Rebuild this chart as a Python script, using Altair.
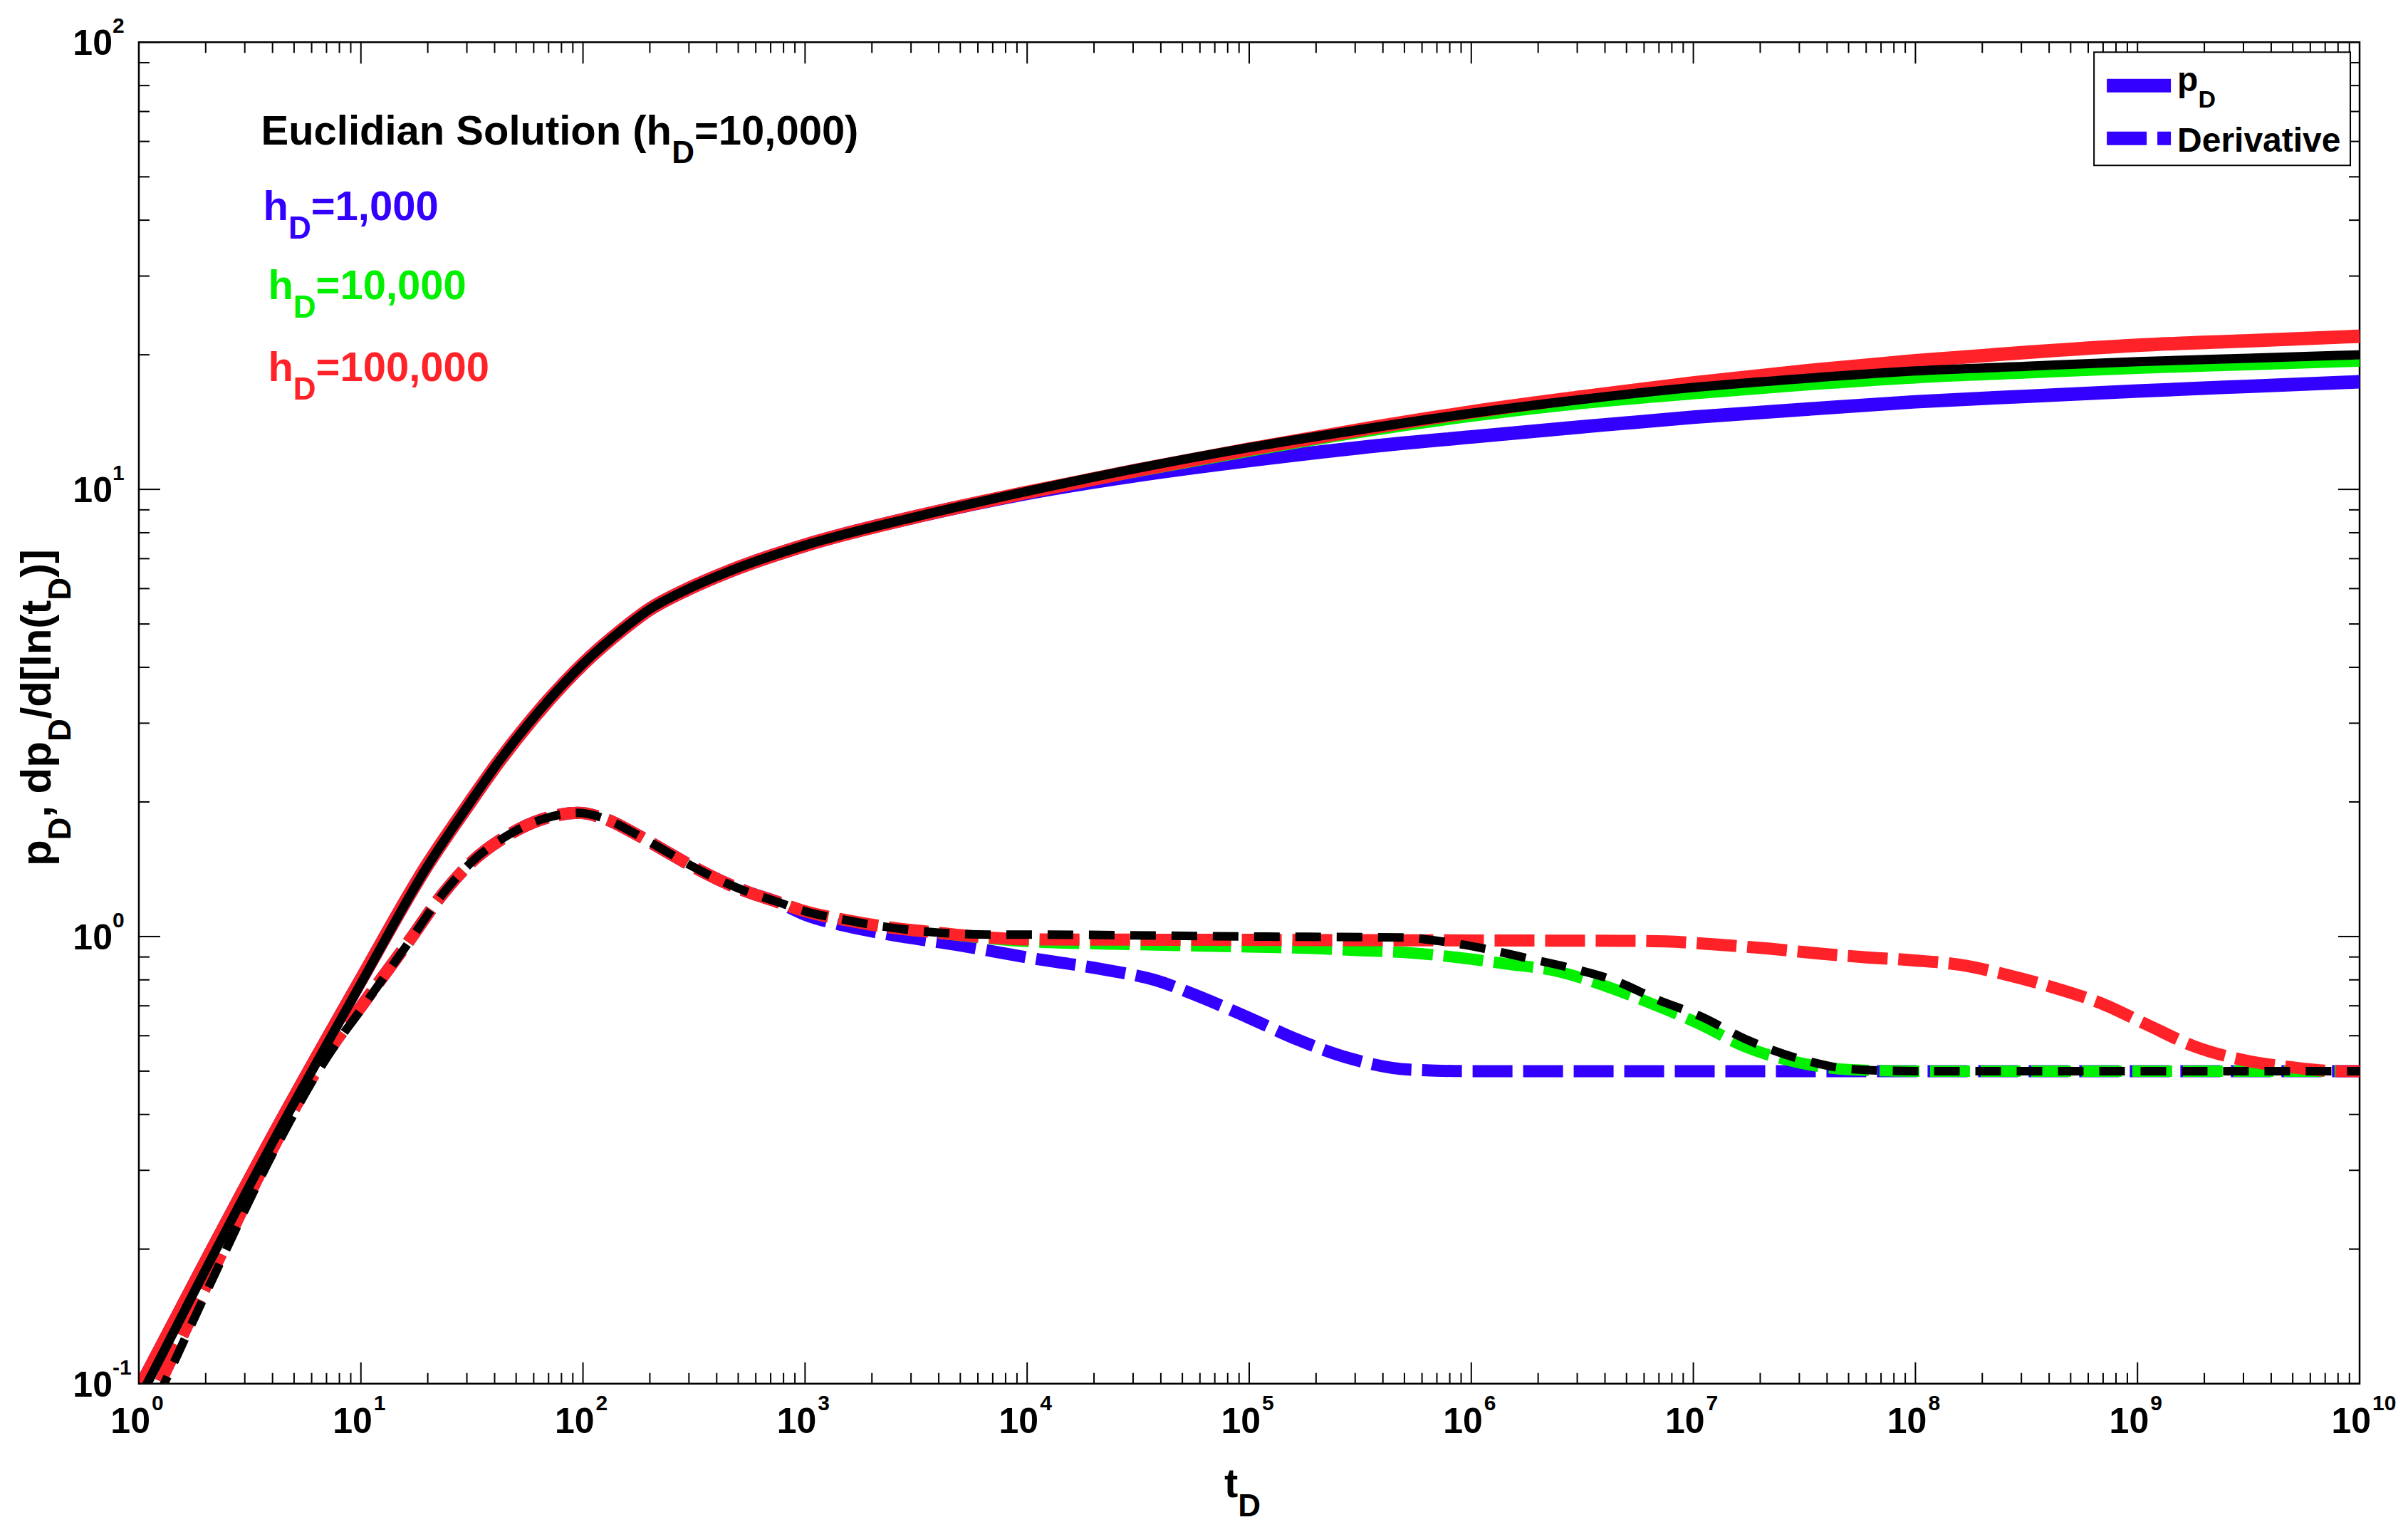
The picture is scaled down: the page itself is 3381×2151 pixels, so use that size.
import altair as alt
import pandas as pd

# ---------------- values ----------------
# early common part of the p_D curves
t_pd_early = [1, 2, 4.2, 10, 20, 30, 42, 61, 100, 150, 198, 300, 477, 1000, 3200]
pd_early = [0.097, 0.187, 0.372, 0.80, 1.45, 1.95, 2.47, 3.12, 4.07, 4.85, 5.38, 6.0, 6.62, 7.5, 8.7]
pd_early_black = [0.092, 0.180, 0.362, 0.785, 1.44, 1.945, 2.47, 3.12, 4.07, 4.85, 5.38, 6.0,
                  6.62, 7.5, 8.7]

# late part of the p_D curves
t_pd_late = [1e4, 3.16e4, 1e5, 3.16e5, 1e6, 3.16e6, 1e7, 3.16e7, 1e8, 3.16e8, 1e9, 3.16e9, 1e10]
pd_blue_late = [9.8, 10.75, 11.6, 12.4, 13.1, 13.8, 14.5, 15.1, 15.7, 16.15, 16.6, 17.0, 17.4]
pd_green_late = [9.87, 11.0, 12.2, 13.45, 14.6, 15.6, 16.4, 17.15, 17.8, 18.25, 18.7, 19.05, 19.4]
pd_red_late = [9.85, 11.05, 12.3, 13.6, 14.9, 16.1, 17.3, 18.4, 19.4, 20.25, 21.0, 21.5, 22.0]
pd_black_late = [9.9, 11.15, 12.4, 13.6, 14.8, 15.9, 16.9, 17.7, 18.4, 18.85, 19.3, 19.65, 20.0]

# early common part of the derivative curves
t_dv_early = [1, 1.3, 2, 4.2, 6.75, 10.5, 16.3, 23.5, 31.6, 45.5, 65.7, 95, 127, 171, 229,
              307, 412, 552, 741]
dv_early = [0.08, 0.105, 0.165, 0.351, 0.53, 0.72, 0.97, 1.25, 1.47, 1.68, 1.83, 1.89, 1.83,
            1.70, 1.565, 1.44, 1.337, 1.258, 1.198]
dv_early_black = [0.076, 0.10, 0.159, 0.342, 0.52, 0.71, 0.965, 1.25, 1.47, 1.68, 1.83, 1.89,
                  1.83, 1.70, 1.565, 1.44, 1.337, 1.258, 1.198]

t_dv_blue = [994, 1545, 2400, 4850, 1.04e4, 2.27e4, 3.8e4, 6.2e4, 1.01e5, 1.65e5, 2.84e5,
             5.25e5, 1e6, 1e7, 1e8, 1e9, 1e10]
dv_blue = [1.12, 1.054, 1.01, 0.957, 0.895, 0.842, 0.798, 0.728, 0.656, 0.588, 0.534,
           0.504, 0.5, 0.5, 0.5, 0.5, 0.5]

t_dv_green = [994, 1545, 2400, 3730, 6710, 1e4, 3e4, 1e5, 2e5, 3.19e5, 5.25e5, 8.65e5,
              1.45e6, 2.42e6, 3.99e6, 6.57e6, 1.07e7, 1.71e7, 2.9e7, 4.99e7, 1e8, 1e9, 1e10]
dv_green = [1.14, 1.087, 1.048, 1.023, 0.99, 0.975, 0.96, 0.948, 0.94, 0.93, 0.92, 0.898,
            0.868, 0.837, 0.776, 0.706, 0.637, 0.567, 0.524, 0.504, 0.5, 0.5, 0.5]

t_dv_red = [994, 1545, 2400, 3730, 6710, 1e4, 1e5, 1e6, 5e6, 7.5e6, 1.25e7, 2.22e7, 3.45e7,
            5.77e7, 9.66e7, 1.57e8, 2.58e8, 4.19e8, 7.0e8, 1.09e9, 1.82e9, 2.96e9, 4.94e9,
            8.1e9, 1e10]
dv_red = [1.14, 1.087, 1.048, 1.023, 0.995, 0.985, 0.983, 0.98, 0.978, 0.975, 0.96, 0.939,
          0.919, 0.90, 0.885, 0.865, 0.821, 0.769, 0.706, 0.637, 0.567, 0.53, 0.51, 0.5, 0.5]

t_dv_black = [994, 1545, 2400, 3730, 6710, 1e4, 1e5, 5e5, 6.85e5, 1.15e6, 1.78e6, 2.76e6,
              4.42e6, 6.87e6, 1.07e7, 1.78e7, 3.12e7, 5.2e7, 1e8, 1e9, 1e10]
dv_black = [1.14, 1.087, 1.048, 1.023, 1.01, 1.01, 1.0, 0.995, 0.98, 0.939, 0.895, 0.852,
            0.797, 0.723, 0.664, 0.585, 0.53, 0.505, 0.5, 0.5, 0.5]

# axis tick values and labels
x_major = [10.0 ** e for e in range(0, 11)]
x_minor = [m * 10.0 ** e for e in range(0, 10) for m in range(2, 10)]
y_major = [0.1, 1.0, 10.0, 100.0]
y_minor = [m * 10.0 ** e for e in range(-1, 2) for m in range(2, 10)]
x_exp = [str(e) for e in range(0, 11)]
y_exp = ["-1", "0", "1", "2"]

BLUE, GREEN, RED, BLACK = "#3300FF", "#00F000", "#FF2228", "#000000"

# ---------------- layout ----------------
W, H = 3119, 1884
FONT = "Liberation Sans"

xs = alt.Scale(type="log", domain=[1, 1e10], nice=False)
ys = alt.Scale(type="log", domain=[0.1, 100], nice=False)


def X(f):
    return alt.X(f, scale=xs, axis=None)


def Y(f):
    return alt.Y(f, scale=ys, axis=None)


AW = {' ': 278, ',': 278, '(': 333, ')': 333, '[': 333, ']': 333, '/': 278, '=': 584,
      '-': 333, 'D': 722, 'E': 667, 'S': 667, 'a': 556, 'c': 556, 'd': 611, 'e': 556,
      'h': 611, 'i': 278, 'l': 278, 'n': 611, 'o': 611, 'p': 611, 'r': 389, 't': 333,
      'u': 611, 'v': 556}


def tw(s, size):
    return sum(AW.get(c, 556) for c in s) * size / 1000.0


layers = []


def line(ts, vs, color, width, dash=None):
    df = pd.DataFrame({"t": ts, "v": vs})
    kw = dict(color=color, strokeWidth=width, clip=True, interpolate="monotone",
              strokeCap="butt", strokeJoin="round")
    if dash:
        kw["strokeDash"] = dash
    return alt.Chart(df).mark_line(**kw).encode(x=X("t:Q"), y=Y("v:Q"))


# blue
layers.append(line(t_pd_early + t_pd_late, pd_early + pd_blue_late, BLUE, 19))
layers.append(line(t_dv_early + t_dv_blue, dv_early + dv_blue, BLUE, 17, [56, 15]))
# green
layers.append(line(t_pd_early + t_pd_late, pd_early + pd_green_late, GREEN, 17))
layers.append(line(t_dv_early + t_dv_green, dv_early + dv_green, GREEN, 16, [56, 15]))
# red
layers.append(line(t_pd_early + t_pd_late, pd_early + pd_red_late, RED, 19))
layers.append(line(t_dv_early + t_dv_red, dv_early + dv_red, RED, 17, [56, 15]))
# black
layers.append(line(t_pd_early + t_pd_late, pd_early_black + pd_black_late, BLACK, 13))
layers.append(line(t_dv_early + t_dv_black, dv_early_black + dv_black, BLACK, 12, [36, 22]))

# ---------------- inward ticks on all four sides ----------------
MAJ, MIN = 30, 15
for vals, L in ((x_major, MAJ), (x_minor, MIN)):
    df = pd.DataFrame({"t": vals})
    layers.append(alt.Chart(df).mark_rule(color="black", strokeWidth=2).encode(
        x=X("t:Q"), y=alt.value(H), y2=alt.value(H - L)))
    layers.append(alt.Chart(df).mark_rule(color="black", strokeWidth=2).encode(
        x=X("t:Q"), y=alt.value(0), y2=alt.value(L)))
for vals, L in ((y_major, MAJ), (y_minor, MIN)):
    df = pd.DataFrame({"v": vals})
    layers.append(alt.Chart(df).mark_rule(color="black", strokeWidth=2).encode(
        y=Y("v:Q"), x=alt.value(0), x2=alt.value(L)))
    layers.append(alt.Chart(df).mark_rule(color="black", strokeWidth=2).encode(
        y=Y("v:Q"), x=alt.value(W), x2=alt.value(W - L)))

# ---------------- tick labels (10 with superscript exponent) ----------------
TXT = dict(font=FONT, fontWeight="bold", color="black", baseline="alphabetic")
dfx = pd.DataFrame({"t": x_major, "v": [0.1] * len(x_major), "b": ["10"] * len(x_major),
                    "e": x_exp})
layers.append(alt.Chart(dfx).mark_text(align="right", dx=16, dy=69, fontSize=50, **TXT).encode(
    x=X("t:Q"), y=Y("v:Q"), text="b:N"))
layers.append(alt.Chart(dfx).mark_text(align="left", dx=18, dy=37, fontSize=30, **TXT).encode(
    x=X("t:Q"), y=Y("v:Q"), text="e:N"))
dfy = pd.DataFrame({"t": [1.0] * len(y_major), "v": y_major, "b": ["10"] * len(y_major),
                    "e": y_exp})
layers.append(alt.Chart(dfy).mark_text(align="right", dx=-37, dy=18, fontSize=50, **TXT).encode(
    x=X("t:Q"), y=Y("v:Q"), text="b:N"))
layers.append(alt.Chart(dfy).mark_text(align="left", dx=-37, dy=-13, fontSize=30, **TXT).encode(
    x=X("t:Q"), y=Y("v:Q"), text="e:N"))


# ---------------- rich text helper (subscripts) ----------------
def rich(segs, color, main, sub, sub_dy, t=None, v=None, px=None, py=None,
         angle=0, dx0=0.0, dy0=0.0):
    out = []
    off = dx0
    for s, is_sub in segs:
        size = sub if is_sub else main
        kw = dict(align="left", baseline="alphabetic", font=FONT, fontWeight="bold",
                  fontSize=size, color=color, dx=off, dy=dy0 + (sub_dy if is_sub else 0))
        if angle:
            kw["angle"] = angle
        if t is not None:
            df = pd.DataFrame({"t": [t], "v": [v], "s": [s]})
            enc = dict(x=X("t:Q"), y=Y("v:Q"), text="s:N")
        else:
            df = pd.DataFrame({"s": [s]})
            enc = dict(x=alt.value(px), y=alt.value(py), text="s:N")
        out.append(alt.Chart(df).mark_text(**kw).encode(**enc))
        off += tw(s, size)
    return out


# annotations
layers += rich([("Euclidian Solution (h", 0), ("D", 1), ("=10,000)", 0)], BLACK, 58, 44, 26,
               t=3.55, v=59.0)
layers += rich([("h", 0), ("D", 1), ("=1,000", 0)], BLUE, 58, 44, 26, t=3.63, v=40.0)
layers += rich([("h", 0), ("D", 1), ("=10,000", 0)], GREEN, 58, 44, 26, t=3.82, v=26.6)
layers += rich([("h", 0), ("D", 1), ("=100,000", 0)], RED, 58, 44, 26, t=3.82, v=17.5)

# y title (rotated)
ysegs = [("p", 0), ("D", 1), (", dp", 0), ("D", 1), ("/d[ln(t", 0), ("D", 1), (")]", 0)]
ytot = sum(tw(s, 44 if b else 60) for s, b in ysegs)
layers += rich(ysegs, BLACK, 60, 44, 28, t=1.0, v=3.25, angle=270, dx0=-ytot / 2, dy0=-124)

# x title
layers += rich([("t", 0), ("D", 1)], BLACK, 58, 44, 27, t=1e5, v=0.1, dx0=-35, dy0=159)

# ---------------- legend ----------------
one = pd.DataFrame({"k": [0]})
layers.append(alt.Chart(one).mark_rect(fill="white", stroke="black", strokeWidth=2).encode(
    x=alt.value(2746), x2=alt.value(3106), y=alt.value(14), y2=alt.value(173)))
layers.append(alt.Chart(one).mark_rule(color=BLUE, strokeWidth=19, strokeCap="butt").encode(
    x=alt.value(2764), x2=alt.value(2854), y=alt.value(61)))
layers.append(alt.Chart(one).mark_rule(color=BLUE, strokeWidth=19, strokeCap="butt",
                                       strokeDash=[56, 15]).encode(
    x=alt.value(2764), x2=alt.value(2854), y=alt.value(135)))
layers += rich([("p", 0), ("D", 1)], BLACK, 48, 34, 23, px=2863, py=69)
layers += rich([("Derivative", 0)], BLACK, 48, 34, 23, px=2863, py=154)

chart = alt.layer(*layers).properties(
    width=W, height=H,
    padding={"left": 187, "top": 51, "right": 60, "bottom": 202},
    autosize=alt.AutoSizeParams(type="none"),
    background="white",
).configure_view(stroke="black", strokeWidth=2.5)

chart.save("out.html", embed_options={"renderer": "svg", "actions": False})
